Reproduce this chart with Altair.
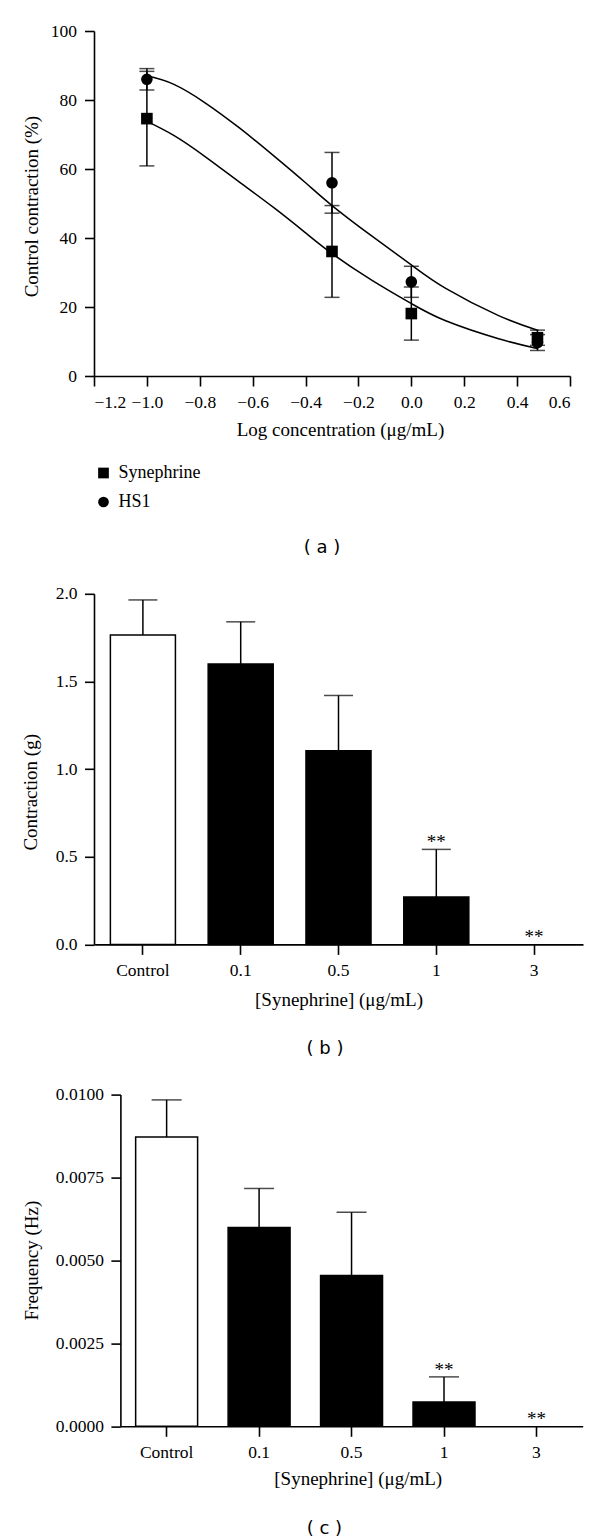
import altair as alt
import pandas as pd

# ---------------- Panel (a): concentration-response ----------------
conc_log = [-1.0, -0.3, 0.0, 0.477]
syn_mean = [74.6, 36.1, 18.1, 11.1]
syn_sem = [13.7, 13.3, 7.7, 2.2]
hs1_mean = [86.0, 56.0, 27.3, 9.7]
hs1_sem = [3.1, 8.8, 4.5, 2.3]

fit_x = [-1.0, -0.9, -0.78, -0.65, -0.52, -0.40, -0.30, -0.15, 0.0, 0.13, 0.33, 0.48]
syn_fit_y = [73.8, 69.8, 63.6, 56.2, 48.8, 41.5, 35.5, 27.8, 21.0, 16.0, 10.8, 7.9]
hs1_fit_y = [87.0, 84.6, 79.2, 71.9, 63.8, 56.0, 49.4, 40.6, 32.2, 25.4, 17.5, 13.2]

series_names = ["Synephrine", "HS1"]

# ---------------- Panels (b), (c): bar charts ----------------
doses = ["Control", "0.1", "0.5", "1", "3"]
contr_mean = [1.765, 1.60, 1.105, 0.27, 0.0]
contr_sem = [0.20, 0.24, 0.315, 0.272, 0.0]
freq_mean = [0.00872, 0.00599, 0.00455, 0.000735, 0.0]
freq_sem = [0.00112, 0.00118, 0.0019, 0.000755, 0.0]
sig = ["", "", "", "**", "**"]

SERIF = "Liberation Serif"
SANS = "DejaVu Sans"

pts = pd.DataFrame({
    "logc": conc_log * 2,
    "series": [series_names[0]] * 4 + [series_names[1]] * 4,
    "mean": syn_mean + hs1_mean,
    "sem": syn_sem + hs1_sem,
})
fit = pd.DataFrame({
    "logc": fit_x * 2,
    "series": [series_names[0]] * len(fit_x) + [series_names[1]] * len(fit_x),
    "y": syn_fit_y + hs1_fit_y,
})

xa = alt.X("logc:Q", scale=alt.Scale(domain=[-1.2, 0.6], nice=False, zero=False),
           axis=alt.Axis(values=[-1.2, -1.0, -0.8, -0.6, -0.4, -0.2, 0.0, 0.2, 0.4, 0.6],
                         format=".1f", tickSize=10, labelPadding=21, labelBaseline="alphabetic",
                         title="Log concentration (μg/mL)", titleX=246, titleY=59.3,
                         titleBaseline="alphabetic", titleAlign="center"))
ya_axis = alt.Axis(values=[0, 20, 40, 60, 80, 100], format="d", tickSize=9.5, labelPadding=8,
                   title="Control contraction (%)", titleX=-56.6, titleY=175.1,
                   titleBaseline="alphabetic", titleAlign="center", titleAngle=270)
ya_scale = alt.Scale(domain=[0, 100], nice=False)

curves = alt.Chart(fit).mark_line(color="black", strokeWidth=1.5, interpolate="natural").encode(
    x=xa,
    y=alt.Y("y:Q", scale=ya_scale, axis=ya_axis),
    detail="series:N",
)
base_pts = alt.Chart(pts).transform_calculate(
    lo="datum.mean - datum.sem", hi="datum.mean + datum.sem"
)
err_rule = base_pts.mark_rule(color="black", strokeWidth=1.5).encode(
    x="logc:Q", y=alt.Y("lo:Q", scale=ya_scale), y2="hi:Q"
)
cap_lo = base_pts.mark_tick(color="black", orient="horizontal", size=15, thickness=1.5).encode(
    x="logc:Q", y=alt.Y("lo:Q", scale=ya_scale)
)
cap_hi = base_pts.mark_tick(color="black", orient="horizontal", size=15, thickness=1.5).encode(
    x="logc:Q", y=alt.Y("hi:Q", scale=ya_scale)
)
markers = alt.Chart(pts).mark_point(filled=True, color="black", size=135, opacity=1).encode(
    x="logc:Q",
    y=alt.Y("mean:Q", scale=ya_scale),
    shape=alt.Shape("series:N",
                    scale=alt.Scale(domain=series_names, range=["square", "circle"]),
                    legend=alt.Legend(orient="none", legendX=0.5, legendY=433, title=None,
                                      labelFont=SERIF, labelFontSize=18, labelColor="black",
                                      symbolSize=115, symbolFillColor="black",
                                      symbolStrokeColor="black", symbolStrokeWidth=0,
                                      rowPadding=11, labelOffset=6, padding=0)),
)
panel_a = alt.layer(curves, err_rule, cap_lo, cap_hi, markers).properties(
    width=476, height=345,
    title=alt.TitleParams("( a )", orient="bottom", anchor="middle", frame="group", dx=-10,
                          offset=99.4, font=SANS, fontSize=18, fontWeight="normal",
                          color="black"),
)


def bar_panel(mean, sem, width, height, xshift, ymax, yvals, yfmt, ytitle, ytx, yty, xtx, xty,
              pin, pout, cap, label, ldx, loff):
    df = pd.DataFrame({"dose": doses, "mean": mean, "sem": sem, "sig": sig})
    base = alt.Chart(df).transform_calculate(hi="datum.mean + datum.sem")
    xs = alt.X("dose:N", sort=doses,
               scale=alt.Scale(paddingInner=pin, paddingOuter=pout,
                               range=[xshift, xshift + width]),
               axis=alt.Axis(labelAngle=0, tickSize=10, labelPadding=20.7,
                             labelBaseline="alphabetic",
                             title="[Synephrine] (μg/mL)", titleX=xtx, titleY=xty,
                             titleBaseline="alphabetic", titleAlign="center"))
    ysc = alt.Scale(domain=[0, ymax], nice=False)
    yax = alt.Axis(values=yvals, format=yfmt, tickSize=9.5, labelPadding=7.5, offset=-xshift,
                   title=ytitle, titleX=ytx, titleY=yty, titleBaseline="alphabetic",
                   titleAlign="center", titleAngle=270)
    bars = base.mark_bar(stroke="black", strokeWidth=1.5).encode(
        x=xs,
        y=alt.Y("mean:Q", scale=ysc, axis=yax),
        fill=alt.condition(alt.datum.dose == "Control", alt.value("white"), alt.value("black")),
        opacity=alt.condition("datum.mean > 0", alt.value(1), alt.value(0)),
    )
    errs = base.transform_filter("datum.sem > 0")
    rule = errs.mark_rule(color="black", strokeWidth=1.5).encode(
        x=alt.X("dose:N", sort=doses), y=alt.Y("mean:Q", scale=ysc), y2="hi:Q"
    )
    capm = errs.mark_tick(color="black", orient="horizontal", size=cap, thickness=1.5).encode(
        x=alt.X("dose:N", sort=doses), y=alt.Y("hi:Q", scale=ysc)
    )
    stars = base.transform_filter("datum.sig != ''").mark_text(
        font=SERIF, fontSize=19, color="black", baseline="alphabetic", dy=-1
    ).encode(x=alt.X("dose:N", sort=doses), y=alt.Y("hi:Q", scale=ysc), text="sig:N")
    return alt.layer(bars, rule, capm, stars).properties(
        width=xshift + width, height=height,
        title=alt.TitleParams(label, orient="bottom", anchor="middle", frame="group", dx=ldx,
                              offset=loff, font=SANS, fontSize=18, fontWeight="normal",
                              color="black"),
    )


panel_b = bar_panel(contr_mean, contr_sem, 489, 350.6, 0, 2.0, [0.0, 0.5, 1.0, 1.5, 2.0], ".1f",
                    "Contraction (g)", -57.7, 198, 244.5, 61.4, 0.335, 0.1675, 29,
                    "( b )", -13.5, 30)
panel_c = bar_panel(freq_mean, freq_sem, 462.3, 331.7, 26.4, 0.01,
                    [0.0, 0.0025, 0.005, 0.0075, 0.01], ".4f",
                    "Frequency (Hz)", -83, 165.5, 263.7, 58, 0.33, 0.165, 30,
                    "( c )", -14, 31.6)

chart = alt.concat(panel_a, panel_b, panel_c, columns=1, spacing=27.8).properties(
    padding={"left": 13, "top": 14, "right": 2, "bottom": 0},
    background="white",
).configure_view(stroke=None).configure_axis(
    labelFont=SERIF, labelFontSize=17.5, labelColor="black",
    titleFont=SERIF, titleFontSize=19, titleFontWeight="normal", titleColor="black",
    domainColor="black", tickColor="black", domainWidth=1.6, tickWidth=1.6, grid=False,
)

chart.save("out.html", embed_options={"renderer": "svg", "actions": False})
